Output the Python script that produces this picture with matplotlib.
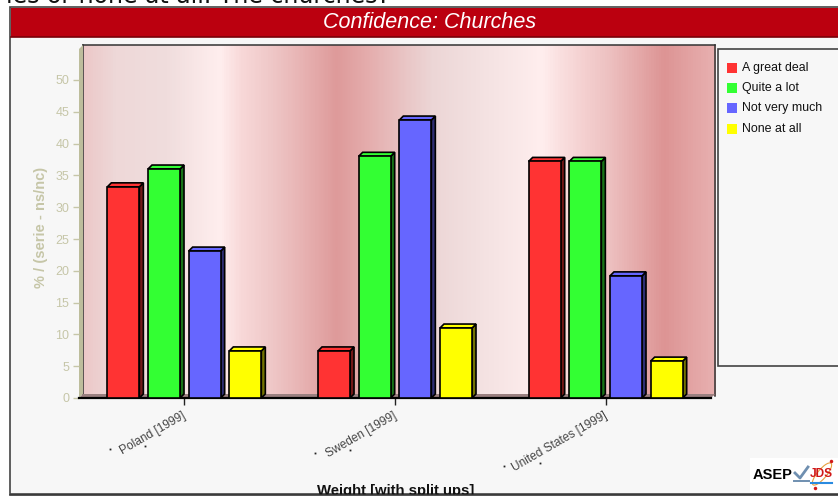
import numpy as np
import matplotlib
matplotlib.use('Agg')
import matplotlib.pyplot as plt
from matplotlib.colors import LinearSegmentedColormap, to_rgb
from matplotlib.patches import Rectangle, Polygon, Ellipse

plt.rcParams['font.family'] = ['Liberation Sans', 'DejaVu Sans']

# data
countries = ['Poland [1999]', 'Sweden [1999]', 'United States [1999]']
answers = ['A great deal', 'Quite a lot', 'Not very much', 'None at all']
great_deal = [33.2, 7.4, 37.2]
quite_lot = [36.0, 38.0, 37.2]
not_much = [23.1, 43.7, 19.2]
none_at_all = [7.4, 11.0, 5.8]
series = [great_deal, quite_lot, not_much, none_at_all]
colors = ['#ff3333', '#33ff33', '#6666ff', '#ffff00']
yticks = list(range(0, 55, 5))

W, H = 838, 498
DEPTH = 4  # px of the fake 3d
fig = plt.figure(figsize=(W / 100, H / 100), dpi=100, facecolor='white')


def px_axes(l, t, r, b, **kw):
    return fig.add_axes([l / W, 1 - b / H, (r - l) / W, (b - t) / H], **kw)


# page canvas in pixel coords, for the frame, title and legend box
page = fig.add_axes([0, 0, 1, 1], zorder=0)
page.set_xlim(0, W)
page.set_ylim(H, 0)
page.axis('off')
page.add_patch(Rectangle((10, 7), 840, 487, fc='#f7f7f7', ec='#444444', lw=1.2))
page.add_patch(Rectangle((11, 8), 830, 29, fc='#bb000f', ec='none'))
page.plot([11, W], [37, 37], color='#7a0008', lw=1.2)
page.text(390, 3, 'ies or none at all. The churches?', ha='right', va='baseline',
          fontsize=17, family='DejaVu Sans', color='#111111', clip_on=True)
page.text(430, 22, 'Confidence: Churches', ha='center', va='center', color='white',
          fontsize=15.5, style='italic')

# gradient wall behind the bars
wall = px_axes(83, 45, 715, 396, zorder=1)
stops = [(0.0, '#ecc8c8'), (0.05, '#eed8d8'), (0.13, '#f0dddd'), (0.215, '#ffeeee'),
         (0.25, '#f8d8d8'), (0.296, '#efc8c8'), (0.343, '#e8b4b4'), (0.40, '#de9a9a'),
         (0.454, '#e5aeae'), (0.506, '#e9c4c4'), (0.552, '#ecd6d6'), (0.642, '#f5e3e3'),
         (0.726, '#ffeeee'), (0.763, '#f9dcdc'), (0.834, '#edc0c0'), (0.92, '#dd9494'),
         (1.0, '#e8b0b0')]
cmap = LinearSegmentedColormap.from_list('wall', stops)
wall.imshow(np.linspace(0, 1, 632)[None, :], aspect='auto', cmap=cmap, vmin=0, vmax=1)
wall.set_xticks([])
wall.set_yticks([])
for s in wall.spines.values():
    s.set_color('#333333')
    s.set_linewidth(1.1)
wall.spines['bottom'].set_visible(False)

# the real chart axes, front plane
ax = px_axes(79, 49, 711, 398, zorder=2)
ax.patch.set_alpha(0)
ax.set_xlim(-0.5, 2.5)
ax.set_ylim(0, (398 - 49) / 6.36)
for name in ['top', 'right', 'left']:
    ax.spines[name].set_visible(False)
ax.spines['bottom'].set_color('black')
ax.spines['bottom'].set_linewidth(1.6)

# side wall and floor
ax.add_patch(Polygon([(0, 0), (0, 1), (DEPTH / 632, 1 + DEPTH / 349), (DEPTH / 632, DEPTH / 349)],
                     closed=True, transform=ax.transAxes, fc='#bdbd9c', ec='none', clip_on=False))
ax.add_patch(Polygon([(0, 0), (1, 0), (1 + DEPTH / 632, DEPTH / 349), (DEPTH / 632, DEPTH / 349)],
                     closed=True, transform=ax.transAxes, fc='#9a8080', ec='none', clip_on=False))

x = np.arange(len(countries))
bar_w = 0.152
step = 0.193


def shade(c, k):
    return tuple(v * k for v in to_rgb(c))


for i, (vals, c) in enumerate(zip(series, colors)):
    xs = x + (i - 1.5) * step
    bars = ax.bar(xs, vals, bar_w, color=c, edgecolor='black', linewidth=1.2, zorder=4)
    for b in bars:
        l, r, h = b.get_x(), b.get_x() + b.get_width(), b.get_height()
        # side and top faces share the front bar's corners, pushed back by DEPTH
        to_px = ax.transData.transform
        pr0, prh, plh = to_px([(r, 0), (r, h), (l, h)])
        side = [pr0, prh, prh + DEPTH, pr0 + DEPTH]
        top = [plh, prh, prh + DEPTH, plh + DEPTH]
        ax.add_patch(Polygon(side, closed=True, transform=None, fc=shade(c, 0.45),
                             ec='black', lw=1.2, zorder=3))
        ax.add_patch(Polygon(top, closed=True, transform=None, fc=c,
                             ec='black', lw=1.2, zorder=3))

ax.set_yticks(yticks)
ax.tick_params(axis='y', colors='#c6c6a8', labelsize=9, length=4, width=1, pad=3)
ax.set_xticks(x)
ax.set_xticklabels([])
ax.tick_params(axis='x', length=5, width=1, color='#222222')
ax.set_ylabel('% / (serie - ns/nc)', color='#c6c6a8', fontweight='bold', fontsize=10.5)
ax.yaxis.set_label_coords(-31 / 632, (398 - 227) / 349)

# x labels, and the stray specks the original renderer left near them
speck_dx = [(-74, -39), (-80, -45), (-102, -66)]
speck_y = [(448.7, 446), (452.7, 450), (466, 463)]
for xi, name, dxs, ys in zip(x, countries, speck_dx, speck_y):
    ax.annotate(name, (xi, 0), xytext=(-1.5, -8.5), textcoords='offset points', rotation=30,
                ha='right', va='top', rotation_mode='anchor', fontsize=8.6, color='#444444')
    tick_px = ax.transData.transform((xi, 0))[0]
    page.plot([tick_px + d for d in dxs], ys, ls='none', marker='s', ms=1.3, mew=0,
              color='#222222', zorder=6)

page.text(396, 490.5, 'Weight [with split ups]', ha='center', va='center',
          fontsize=10.7, fontweight='bold', color='#111111')
page.add_patch(Rectangle((0, 494.5), W, 4, fc='white', ec='none', zorder=5))
page.plot([10, W], [494.5, 494.5], color='#333333', lw=1.2, zorder=6)

# legend box
page.add_patch(Rectangle((717.5, 48.5), 130, 317, fc='#f7f7f7', ec='#444444', lw=1.2))
for i, (name, c) in enumerate(zip(answers, colors)):
    yy = 67.5 + i * 20.4
    page.add_patch(Rectangle((727, yy - 5), 10, 10, fc=c, ec='none'))
    page.text(742, yy, name, va='center', fontsize=8.9, color='#111111')

# logos bottom right
page.add_patch(Rectangle((750, 458), 88, 35, fc='white', ec='none'))
page.text(772.5, 475, 'ASEP', ha='center', va='center', fontsize=10.5, fontweight='bold')
page.plot([795, 800, 808], [473, 478, 467], color='#6f8fb0', lw=2)
page.plot([794, 809], [481, 481], color='#6f8fb0', lw=1.4)
page.add_patch(Ellipse((822, 474), 28, 9, angle=-50, fill=False, ec='#e8a040', lw=0.8))
page.text(821, 474, 'JDS', ha='center', va='center', fontsize=8.6, fontweight='bold', color='#d01818')
page.plot([811, 832], [483, 483], color='#2a8be0', lw=1.5)
page.plot([815, 831], [488, 461], ls='none', marker='o', ms=2.5, mew=0, color='#d01818')

fig.savefig('out.png', dpi=100, facecolor='white')
